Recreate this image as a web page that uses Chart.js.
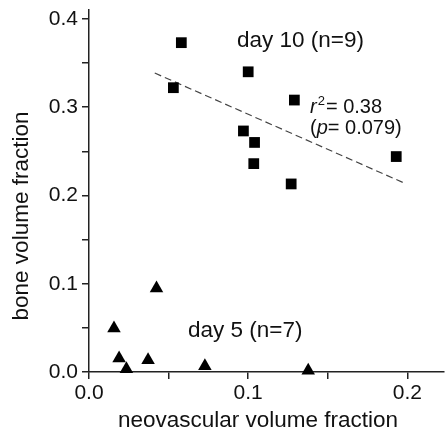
<!DOCTYPE html>
<html><head><meta charset="utf-8">
<script src="https://cdn.jsdelivr.net/npm/chart.js@4/dist/chart.umd.min.js"></script>
<style>html,body{margin:0;padding:0;background:#fff}#wrap{width:446px;height:434px;position:relative}canvas{display:block}</style>
</head><body><div id="wrap"><canvas id="c" width="446" height="434"></canvas></div>
<script>
// ---- data ----
const day10X = [0.058, 0.100, 0.053, 0.129, 0.097, 0.104, 0.1035, 0.127, 0.193];
const day10Y = [0.373, 0.340, 0.322, 0.308, 0.273, 0.260, 0.236, 0.213, 0.244];
const day5X  = [0.0157, 0.0189, 0.0235, 0.0371, 0.0424, 0.0728, 0.1377];
const day5Y  = [0.0495, 0.0155, 0.0034, 0.0134, 0.0948, 0.0068, 0.0017];
const fitX   = [0.0413, 0.198];
const fitY   = [0.3386, 0.214];
const xTickLabels = ['0.0', '0.1', '0.2'];
const yTickLabels = ['0.0', '0.1', '0.2', '0.3', '0.4'];
const xTitle = 'neovascular volume fraction';
const yTitle = 'bone volume fraction';
const labelDay10 = 'day 10 (n=9)';
const labelDay5 = 'day 5 (n=7)';
const r2Value = '0.38';
const pValue = '0.079';

const FONT = '"Liberation Sans", Arial, sans-serif';
const INK = '#111';
const AX = '#222';

const toPts = (xs, ys) => xs.map((x, i) => ({x, y: ys[i]}));
const fmt = v => {
  const k = Math.round(v * 10);
  if (Math.abs(v * 10 - k) > 1e-6) return '';
  return (k / 10).toFixed(1);
};

const textPlugin = {
  id: 'texts',
  afterDraw(chart) {
    const ctx = chart.ctx;
    ctx.save();
    ctx.fillStyle = INK;
    ctx.textBaseline = 'middle';
    // axis titles
    ctx.font = '22.5px ' + FONT;
    ctx.textAlign = 'center';
    ctx.fillText(xTitle, 258, 421);
    ctx.save();
    ctx.translate(22, 216);
    ctx.rotate(-Math.PI / 2);
    ctx.fillText(yTitle, 0, 0);
    ctx.restore();
    // group labels
    ctx.textAlign = 'left';
    ctx.font = '22.5px ' + FONT;
    ctx.fillText(labelDay10, 237, 41);
    ctx.fillText(labelDay5, 188, 331);
    // r^2 and p
    let x = 310, y = 107;
    ctx.font = 'italic 20px ' + FONT;
    ctx.fillText('r', x, y); x += ctx.measureText('r').width + 1;
    ctx.font = '13px ' + FONT;
    ctx.fillText('2', x, y - 6); x += ctx.measureText('2').width + 1;
    ctx.font = '20px ' + FONT;
    ctx.fillText('= ' + r2Value, x, y);
    x = 310; y = 128;
    ctx.fillText('(', x, y); x += ctx.measureText('(').width;
    ctx.font = 'italic 20px ' + FONT;
    ctx.fillText('p', x, y); x += ctx.measureText('p').width;
    ctx.font = '20px ' + FONT;
    ctx.fillText('= ' + pValue + ')', x, y);
    ctx.restore();
  }
};

new Chart(document.getElementById('c'), {
  type: 'scatter',
  data: {
    datasets: [
      { label: 'fit', type: 'line', data: toPts(fitX, fitY), borderColor: '#444', borderWidth: 1.2,
        borderDash: [7, 4], pointRadius: 0, fill: false, order: 3 },
      { label: 'day 10', data: toPts(day10X, day10Y), pointStyle: 'rect', pointRadius: 7.6,
        backgroundColor: '#000', borderColor: '#000', borderWidth: 0, clip: false },
      { label: 'day 5', data: toPts(day5X, day5Y), pointStyle: 'triangle', pointRadius: 7.8,
        backgroundColor: '#000', borderColor: '#000', borderWidth: 0, clip: false }
    ]
  },
  options: {
    responsive: false,
    animation: false,
    devicePixelRatio: 1,
    layout: { autoPadding: false, padding: { top: 10, right: 2, left: 0, bottom: 0 } },
    plugins: { legend: { display: false }, tooltip: { enabled: false } },
    scales: {
      x: {
        type: 'linear', min: 0, max: 0.223,
        afterFit(s) { s.height = 62; s.paddingLeft = 0; s.paddingRight = 0; },
        border: { display: true, color: AX, width: 1.5 },
        grid: { display: true, drawOnChartArea: false, drawTicks: true, tickLength: 7, color: AX, lineWidth: 1.5 },
        ticks: { stepSize: 0.05, includeBounds: false, autoSkip: false, maxRotation: 0, padding: 2,
          color: INK, font: { family: FONT, size: 21 },
          callback: v => { const s = fmt(v); return xTickLabels.includes(s) ? s : ''; } }
      },
      y: {
        type: 'linear', min: 0, max: 0.41,
        afterFit(s) { s.width = 89; s.paddingTop = 0; s.paddingBottom = 0; },
        border: { display: true, color: AX, width: 1.5 },
        grid: { display: true, drawOnChartArea: false, drawTicks: true, tickLength: 7, color: AX, lineWidth: 1.5 },
        ticks: { stepSize: 0.05, includeBounds: false, autoSkip: false, padding: 4,
          color: INK, font: { family: FONT, size: 21 },
          callback: v => { const s = fmt(v); return yTickLabels.includes(s) ? s : ''; } }
      }
    }
  },
  plugins: [textPlugin]
});
</script></body></html>
